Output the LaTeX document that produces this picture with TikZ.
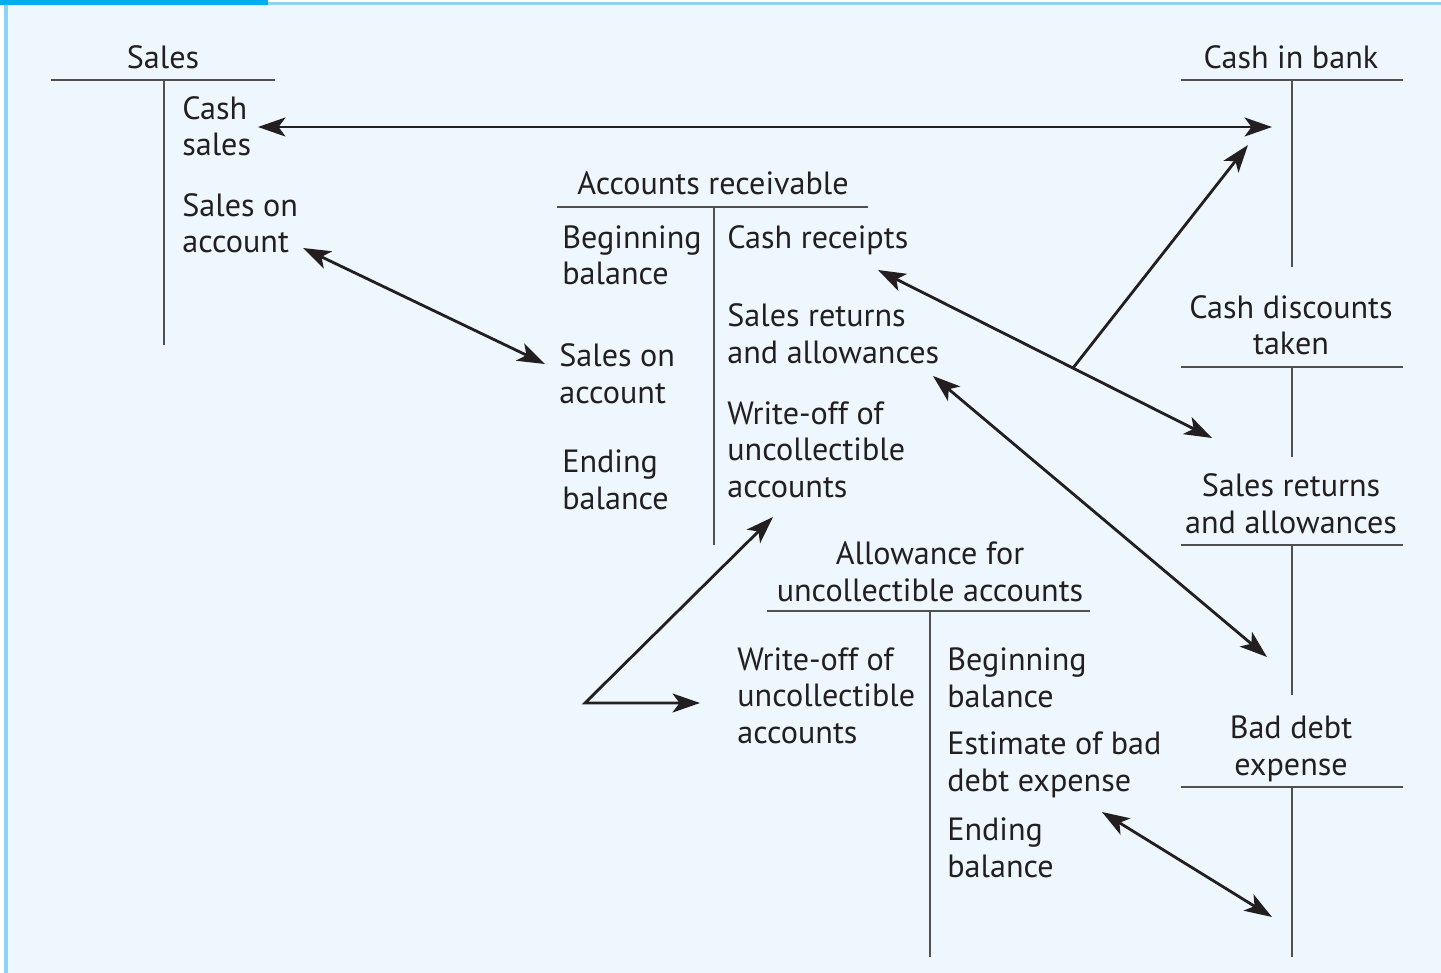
\documentclass[tikz,border=0pt]{standalone}
\usepackage{fontspec}
\setmainfont{PT Sans}
\usetikzlibrary{arrows.meta}
\definecolor{panel}{HTML}{EEF7FD}
\definecolor{topbar}{HTML}{00AEEF}
\definecolor{edgeblue}{HTML}{8ED3F5}
\definecolor{ink}{HTML}{231F20}
\definecolor{tline}{HTML}{505050}

\begin{document}
\begin{tikzpicture}[x=0.02cm, y=-0.02cm,
every node/.style={inner sep=0pt, text=ink, font=\fontsize{18.3}{20.5}\selectfont},
entry/.style={anchor=base west, align=left},
heading/.style={anchor=base, align=center},
tacc/.style={draw=tline, line width=1.1pt},
flow/.style={draw=ink, line width=1.6pt},
>={Stealth[length=0.55cm, width=0.38cm, inset=0.14cm]}]
\useasboundingbox (0,0) rectangle (1441,973);
% panel
\fill[white] (0,0) rectangle (1441,973);
\fill[panel] (8,4) rectangle (1441,973);
\fill[edgeblue] (4,0) rectangle (8,973);
\fill[edgeblue] (268,2) rectangle (1441,5);
\fill[topbar] (0,0) rectangle (268,5);

% Sales (node positions are the baseline of the last line)
\node[heading] (sales) at (163,69) {Sales};
\draw[tacc] (51,80) -- (275,80) (164,80) -- (164,345);
\node[entry] (cashsales) at (182,156) {Cash\\sales};
\node[entry] (salesacc) at (182,253) {Sales on\\account};

% Cash in bank and the other accounts on the right
\node[heading] (bank) at (1291,69) {Cash in bank};
\draw[tacc] (1181,80) -- (1403,80) (1292,80) -- (1292,267);
\node[heading] (disc) at (1291,355) {Cash discounts\\taken};
\draw[tacc] (1181,367) -- (1403,367) (1292,367) -- (1292,457);
\node[heading] (sra) at (1291,533) {Sales returns\\and allowances};
\draw[tacc] (1181,545) -- (1403,545) (1292,545) -- (1292,695);
\node[heading] (bde) at (1291,775) {Bad debt\\expense};
\draw[tacc] (1181,787) -- (1403,787) (1292,787) -- (1292,957);

% Accounts receivable
\node[heading] (ar) at (713,195) {Accounts receivable};
\draw[tacc] (557,207) -- (868,207) (714,207) -- (714,545);
\node[entry] (arbeg) at (562,285) {Beginning\\balance};
\node[entry] (arsales) at (559,403) {Sales on\\account};
\node[entry] (arend) at (562,509) {Ending\\balance};
\node[entry] (arcash) at (727,249) {Cash receipts};
\node[entry] (arsra) at (727,363) {Sales returns\\and allowances};
\node[entry] (arwo) at (727,497) {Write-off of\\uncollectible\\accounts};

% Allowance for uncollectible accounts
\node[heading] (allow) at (930,601) {Allowance for\\uncollectible accounts};
\draw[tacc] (767,611) -- (1090,611) (930,611) -- (930,957);
\node[entry] (alwo) at (737,743) {Write-off of\\uncollectible\\accounts};
\node[entry] (albeg) at (947,707) {Beginning\\balance};
\node[entry] (alest) at (947,791) {Estimate of bad\\debt expense};
\node[entry] (alend) at (947,877) {Ending\\balance};

% arrow ends
\coordinate (p1) at (258,127);
\coordinate (p2) at (1272,127);
\coordinate (p3) at (303,248);
\coordinate (p4) at (545,364);
\coordinate (p5) at (878,270);
\coordinate (p6) at (1212,438);
\coordinate (split) at (1073,368);
\coordinate (p7) at (1248,145);
\coordinate (p8) at (933,376);
\coordinate (p9) at (1267,657);
\coordinate (p10) at (773,517);
\coordinate (corner) at (585,703);
\coordinate (p11) at (700,703);
\coordinate (p12) at (1102,812);
\coordinate (p13) at (1272,917);

\draw[flow, <->] (p1) -- (p2);
\draw[flow, <->] (p3) -- (p4);
\draw[flow, <->] (p5) -- (p6);
\draw[flow, ->] (split) -- (p7);
\draw[flow, <->] (p8) -- (p9);
\draw[flow, <->] (p10) -- (corner) -- (p11);
\draw[flow, <->] (p12) -- (p13);
\end{tikzpicture}
\end{document}
